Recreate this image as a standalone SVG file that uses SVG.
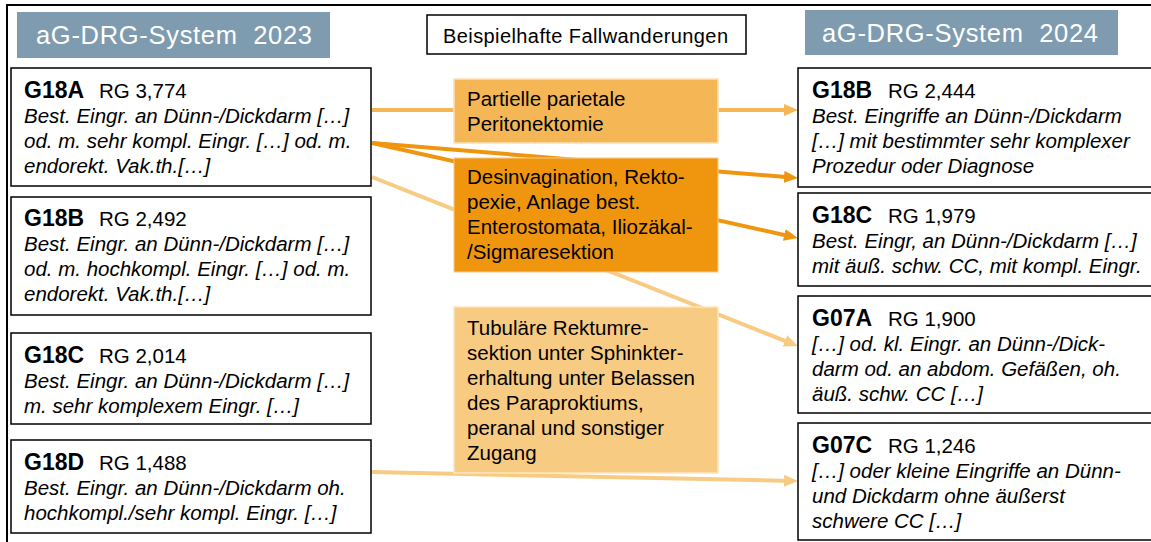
<svg xmlns="http://www.w3.org/2000/svg" width="1151" height="542" viewBox="0 0 1151 542">
<defs>
<style>
.hdr{fill:#7e9baf}
.hdrt{font-family:"Liberation Sans",Arial,sans-serif;font-size:25.5px;fill:#fff}
.box{fill:#fff;stroke:#000;stroke-width:1.5}
.code{font-family:"Liberation Sans",Arial,sans-serif;font-size:23px;font-weight:bold;fill:#000}
.rg{font-family:"Liberation Sans",Arial,sans-serif;font-size:20.5px;fill:#000}
.it{font-family:"Liberation Sans",Arial,sans-serif;font-size:20.5px;font-style:italic;fill:#000}
.tx{font-family:"Liberation Sans",Arial,sans-serif;font-size:20.5px;fill:#000}
.o1{fill:#f5b755;stroke:#fbe0b6;stroke-width:1.5}
.o2{fill:#f0960e;stroke:#f8c98a;stroke-width:1}
.o3{fill:#f8cb83;stroke:#fce5c0;stroke-width:1.5}
.c1{stroke:#f5b755;stroke-width:4;fill:none}
.c2{stroke:#f0960e;stroke-width:4;fill:none}
.c3{stroke:#f8cb83;stroke-width:4;fill:none}
</style>
<marker id="a1" markerUnits="userSpaceOnUse" markerWidth="14" markerHeight="12" refX="8" refY="6" orient="auto"><path d="M0,0 L14,6 L0,12 z" fill="#f5b755"/></marker>
<marker id="a2" markerUnits="userSpaceOnUse" markerWidth="14" markerHeight="12" refX="8" refY="6" orient="auto"><path d="M0,0 L14,6 L0,12 z" fill="#f0960e"/></marker>
<marker id="a3" markerUnits="userSpaceOnUse" markerWidth="14" markerHeight="12" refX="8" refY="6" orient="auto"><path d="M0,0 L14,6 L0,12 z" fill="#f8cb83"/></marker>
</defs>
<rect width="1151" height="542" fill="#fff"/>
<g id="frame" stroke="#000" stroke-width="2" fill="none">
<line x1="6" y1="5" x2="1151" y2="5"/>
<line x1="7" y1="5" x2="7" y2="542"/>
</g>

<g id="connectors">
<line class="c1" x1="372" y1="110" x2="792" y2="110" marker-end="url(#a1)"/>
<line class="c2" x1="372" y1="143" x2="792" y2="177.5" marker-end="url(#a2)"/>
<line class="c2" x1="372" y1="143" x2="792.1" y2="236.7" marker-end="url(#a2)"/>
<line class="c3" x1="372" y1="177" x2="792.4" y2="343.8" marker-end="url(#a3)"/>
<line class="c3" x1="372" y1="472" x2="792" y2="480.9" marker-end="url(#a3)"/>
</g>

<g id="header2023">
<rect class="hdr" x="17" y="12" width="313" height="46"/>
<text class="hdrt" x="36" y="44" textLength="276" xml:space="preserve">aG-DRG-System  2023</text>
</g>
<g id="header2024">
<rect class="hdr" x="805" y="10" width="313" height="45"/>
<text class="hdrt" x="822" y="42" textLength="276" xml:space="preserve">aG-DRG-System  2024</text>
</g>
<g id="title">
<rect x="427" y="15" width="319" height="39" fill="#fff" stroke="#000" stroke-width="1.5"/>
<text class="tx" x="443" y="43" style="font-size:20px" textLength="285">Beispielhafte Fallwanderungen</text>
</g>

<g id="l-G18A">
<rect class="box" x="11" y="68" width="360" height="118"/>
<text class="code" x="24" y="98">G18A</text><text class="rg" x="99" y="98">RG 3,774</text>
<text class="it" x="24" y="123">Best. Eingr. an Dünn-/Dickdarm […]</text>
<text class="it" x="24" y="148">od. m. sehr kompl. Eingr. […] od. m.</text>
<text class="it" x="24" y="173">endorekt. Vak.th.[…]</text>
</g>
<g id="l-G18B">
<rect class="box" x="11" y="197" width="360" height="118"/>
<text class="code" x="24" y="226">G18B</text><text class="rg" x="99" y="226">RG 2,492</text>
<text class="it" x="24" y="251">Best. Eingr. an Dünn-/Dickdarm […]</text>
<text class="it" x="24" y="276">od. m. hochkompl. Eingr. […] od. m.</text>
<text class="it" x="24" y="301">endorekt. Vak.th.[…]</text>
</g>
<g id="l-G18C">
<rect class="box" x="11" y="333" width="360" height="91"/>
<text class="code" x="24" y="363">G18C</text><text class="rg" x="99" y="363">RG 2,014</text>
<text class="it" x="24" y="388">Best. Eingr. an Dünn-/Dickdarm […]</text>
<text class="it" x="24" y="413">m. sehr komplexem Eingr. […]</text>
</g>
<g id="l-G18D">
<rect class="box" x="11" y="440" width="360" height="93"/>
<text class="code" x="24" y="470">G18D</text><text class="rg" x="99" y="470">RG 1,488</text>
<text class="it" x="24" y="495">Best. Eingr. an Dünn-/Dickdarm oh.</text>
<text class="it" x="24" y="520">hochkompl./sehr kompl. Eingr. […]</text>
</g>

<g id="m-partielle">
<rect class="o1" x="454" y="79" width="264" height="64"/>
<text class="tx" x="467" y="106">Partielle parietale</text>
<text class="tx" x="467" y="131">Peritonektomie</text>
</g>
<g id="m-desinvagination">
<rect class="o2" x="454" y="158" width="264" height="114"/>
<text class="tx" x="467" y="184">Desinvagination, Rekto-</text>
<text class="tx" x="467" y="209">pexie, Anlage best.</text>
<text class="tx" x="467" y="234">Enterostomata, Iliozäkal-</text>
<text class="tx" x="467" y="259">/Sigmaresektion</text>
</g>
<g id="m-tubulaere">
<rect class="o3" x="454" y="307" width="264" height="166"/>
<text class="tx" x="467" y="335">Tubuläre Rektumre-</text>
<text class="tx" x="467" y="360">sektion unter Sphinkter-</text>
<text class="tx" x="467" y="385">erhaltung unter Belassen</text>
<text class="tx" x="467" y="410">des Paraproktiums,</text>
<text class="tx" x="467" y="435">peranal und sonstiger</text>
<text class="tx" x="467" y="460">Zugang</text>
</g>

<g id="r-G18B">
<rect class="box" x="798" y="68" width="370" height="119"/>
<text class="code" x="812" y="98">G18B</text><text class="rg" x="888" y="98">RG 2,444</text>
<text class="it" x="812" y="123">Best. Eingriffe an Dünn-/Dickdarm</text>
<text class="it" x="812" y="148">[…] mit bestimmter sehr komplexer</text>
<text class="it" x="812" y="173">Prozedur oder Diagnose</text>
</g>
<g id="r-G18C">
<rect class="box" x="798" y="193" width="370" height="93"/>
<text class="code" x="812" y="223">G18C</text><text class="rg" x="888" y="223">RG 1,979</text>
<text class="it" x="812" y="248">Best. Eingr, an Dünn-/Dickdarm […]</text>
<text class="it" x="812" y="273">mit äuß. schw. CC, mit kompl. Eingr.</text>
</g>
<g id="r-G07A">
<rect class="box" x="798" y="296" width="370" height="117"/>
<text class="code" x="812" y="326">G07A</text><text class="rg" x="888" y="326">RG 1,900</text>
<text class="it" x="812" y="351">[…] od. kl. Eingr. an Dünn-/Dick-</text>
<text class="it" x="812" y="376">darm od. an abdom. Gefäßen, oh.</text>
<text class="it" x="812" y="401">äuß. schw. CC […]</text>
</g>
<g id="r-G07C">
<rect class="box" x="798" y="423" width="370" height="117"/>
<text class="code" x="812" y="453">G07C</text><text class="rg" x="888" y="453">RG 1,246</text>
<text class="it" x="812" y="478">[…] oder kleine Eingriffe an Dünn-</text>
<text class="it" x="812" y="503">und Dickdarm ohne äußerst</text>
<text class="it" x="812" y="528">schwere CC […]</text>
</g>
</svg>
